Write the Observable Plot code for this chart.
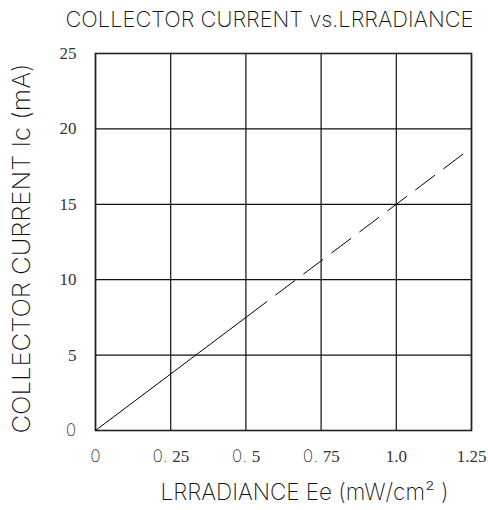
<!DOCTYPE html>
<html><head><meta charset="utf-8">
<script src="https://cdn.jsdelivr.net/npm/d3@7"></script>
<script src="https://cdn.jsdelivr.net/npm/@observablehq/plot@0.6"></script>
<style>body{margin:0;background:#fff} #chart{width:488px;height:510px}</style>
</head><body><div id="chart"></div>
<script>
const title = "COLLECTOR CURRENT vs.LRRADIANCE";
const xLabel = "LRRADIANCE Ee (mW/cm\u00B2 )";
const yLabel = "COLLECTOR CURRENT Ic (mA)";
const xTicks = [0, 0.25, 0.5, 0.75, 1.0, 1.25];
const xTickLabels = ["0", "0.25", "0.5", "0.75", "1.0", "1.25"];
const yTicks = [0, 5, 10, 15, 20, 25];
const yTickLabels = ["0", "5", "10", "15", "20", "25"];
// measured part (solid) and extrapolated part (dashed)
const solidIrr = [0, 0.57];
const solidIc = [0, 8.55];
const dashIrr = [0.57, 1.25];
const dashIc = [8.55, 18.75];

const solid = solidIrr.map((x, i) => ({x, y: solidIc[i]}));
const dashed = dashIrr.map((x, i) => ({x, y: dashIc[i]}));

const SANS = "Inter, 'DejaVu Sans', sans-serif";
const SERIF = "'Liberation Serif', 'DejaVu Serif', serif";
const lbl = {fontFamily: SANS, fontWeight: 200, fill: "#111", lineAnchor: "middle", textAnchor: "middle"};

const plot = Plot.plot({
  width: 488, height: 510,
  marginLeft: 95, marginRight: 17, marginTop: 53, marginBottom: 80,
  style: {background: "#fff", color: "#000"},
  x: {domain: [0, 1.25]},
  y: {domain: [0, 25]},
  marks: [
    Plot.gridX(xTicks, {stroke: "#111", strokeOpacity: 1, strokeWidth: 1.2}),
    Plot.gridY(yTicks, {stroke: "#111", strokeOpacity: 1, strokeWidth: 1.2}),
    Plot.frame({stroke: "#222", strokeWidth: 1.6}),
    Plot.line(solid, {x: "x", y: "y", stroke: "#000", strokeWidth: 1}),
    Plot.line(dashed, {x: "x", y: "y", stroke: "#000", strokeWidth: 1, strokeDasharray: "24,11", strokeDashoffset: 24}),
    Plot.axisX(xTicks, {anchor: "bottom", tickSize: 0, tickPadding: 19, fontSize: 17, fontFamily: SERIF, fill: "#333",
      tickFormat: d => xTickLabels[xTicks.indexOf(d)], label: null}),
    Plot.axisY(yTicks, {anchor: "left", tickSize: 0, tickPadding: 19, fontSize: 17, fontFamily: SERIF, fill: "#333",
      tickFormat: d => yTickLabels[yTicks.indexOf(d)], label: null}),
    Plot.text([title], {...lbl, frameAnchor: "top", dx: -14, dy: -34, fontSize: 22}),
    Plot.text([yLabel], {...lbl, frameAnchor: "left", rotate: -90, dx: -73.5, dy: 6.5, fontSize: 24}),
    Plot.text([xLabel], {...lbl, frameAnchor: "bottom", dx: 21, dy: 62, fontSize: 23})
  ]
});
document.getElementById("chart").appendChild(plot);

// condense label glyphs to the reference widths
const widths = {[title]: 408, [yLabel]: 370, [xLabel]: 288};
plot.querySelectorAll("text").forEach(t => {
  const s = t.textContent;
  if (widths[s]) {
    t.setAttribute("textLength", widths[s]);
    t.setAttribute("lengthAdjust", "spacingAndGlyphs");
  } else if (s === "0") {
    t.setAttribute("font-family", SANS);
    t.setAttribute("font-weight", "200");
  } else if (/^0\.\d+$/.test(s)) {
    const rest = s.slice(2);
    t.textContent = "";
    const a = document.createElementNS("http://www.w3.org/2000/svg", "tspan");
    a.setAttribute("font-family", SANS); a.setAttribute("font-weight", "200");
    a.textContent = "0. ";
    const b = document.createElementNS("http://www.w3.org/2000/svg", "tspan");
    b.textContent = rest;
    t.appendChild(a); t.appendChild(b);
  }
});
</script></body></html>
